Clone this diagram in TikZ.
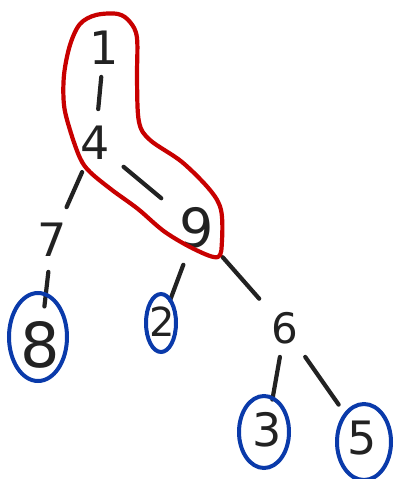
\documentclass[tikz,border=0pt]{standalone}
\usepackage{fontspec}
\setmainfont{DejaVu Sans}
\definecolor{ink}{HTML}{222222}
\definecolor{loopred}{HTML}{C80000}
\definecolor{ringblue}{HTML}{0A3AAA}
\begin{document}
\begin{tikzpicture}[x=1pt,y=-1pt,
  digit/.style={font=\fontsize{46}{46}\selectfont, inner sep=3pt, text=ink},
  branch/.style={line width=4.2pt, line cap=round, draw=ink, shorten <=11pt, shorten >=11pt},
  leafring/.style={draw=ringblue, line width=4pt},
  chosen/.style={draw=loopred, line width=4.2pt, line join=round}
]
\useasboundingbox (0,0) rectangle (394,479);

% tree nodes
\node[digit] (n1) at (104,48) {1};
\node[digit] (n4) at (95,143) {4};
\node[digit] (n7) at (52,240) {7};
\node[digit, font=\fontsize{54}{54}\selectfont] (n9) at (197,228) {9};
\node[digit, font=\fontsize{62}{62}\selectfont] (n8) at (40,345) {8};
\node[digit, font=\fontsize{40}{40}\selectfont] (n2) at (162,322) {2};
\node[digit, font=\fontsize{42}{42}\selectfont] (n6) at (285,328) {6};
\node[digit] (n3) at (267,430) {3};
\node[digit] (n5) at (362,438) {5};

% branches
\draw[branch, shorten <=9pt, shorten >=14pt] (n1) -- (n4);
\draw[branch, shorten <=10pt, shorten >=14pt] (n4) -- (n7);
\draw[branch, shorten <=14pt, shorten >=20pt] (n4) -- (n9);
\draw[branch, shorten <=12pt, shorten >=12pt] (n7) -- (n8);
\draw[branch, shorten <=14pt, shorten >=4pt] (n9) -- (n2);
\draw[branch, shorten <=8pt, shorten >=14pt] (n9) -- (n6);
\draw[branch, shorten <=10pt, shorten >=10pt] (n6) -- (n3);
\draw[branch, shorten <=12pt, shorten >=16pt] (n6) -- (n5);

% loop around the path 1 - 4 - 9
\draw[chosen] plot[smooth cycle, tension=0.55] coordinates {
  (96,15) (118,14) (130,22) (137,38) (137,80) (139,122) (150,140)
  (182,162) (210,190) (221,210) (222,240) (218,257) (196,250)
  (165,232) (138,209) (112,190) (90,172) (80,158) (70,130)
  (64,105) (64,75) (70,45) (80,24)};

% rings around the leaves
\draw[leafring] (38,337) ellipse [x radius=29, y radius=44];
\draw[leafring] (161,323) ellipse [x radius=15, y radius=29];
\draw[leafring] (264,432) ellipse [x radius=25, y radius=36];
\draw[leafring] (364,442) ellipse [x radius=27, y radius=38];
\end{tikzpicture}
\end{document}
